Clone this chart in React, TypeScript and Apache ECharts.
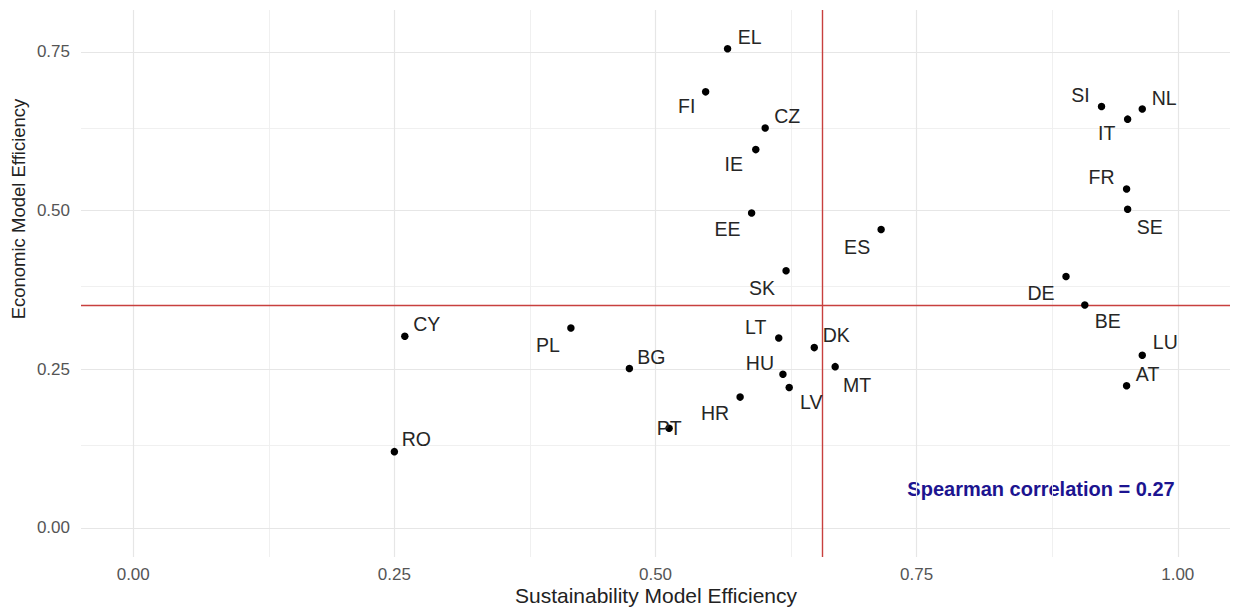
import React, { useEffect, useRef } from "react";
import * as echarts from "echarts";

// ---- data ----
const countries = ["EL","FI","CZ","IE","EE","SK","ES","SI","IT","NL","FR","SE","DE","BE","LU","AT","MT","DK","LT","HU","LV","HR","PT","BG","PL","CY","RO"];
const sustainability = [0.569,0.548,0.605,0.596,0.592,0.625,0.716,0.927,0.952,0.966,0.951,0.952,0.893,0.911,0.966,0.951,0.672,0.652,0.618,0.622,0.628,0.581,0.513,0.475,0.419,0.260,0.250];
const economic = [0.755,0.687,0.630,0.596,0.496,0.405,0.470,0.664,0.644,0.660,0.534,0.502,0.396,0.351,0.272,0.224,0.254,0.284,0.299,0.242,0.221,0.206,0.157,0.251,0.315,0.302,0.120];
const medianSustainability = 0.658;
const medianEconomic = 0.3535;
const spearman = 0.27;
const xTicks = [0, 0.25, 0.5, 0.75, 1];
const yTicks = [0, 0.25, 0.5, 0.75];
const xMinorGrid = [0.125, 0.375, 0.625, 0.875];
const yMinorGrid = [0.125, 0.375, 0.625];

// label placement (repel-style nudges, px)
const labelNudges: number[][] = [[22,-12],[-19,14],[22,-12],[-22,14],[-24,16],[-24,17],[-24,17],[-21,-11],[-21,14],[22,-11],[-25,-12],[22,18],[-25,16],[23,16],[23,-13],[21,-12],[22,18],[22,-13],[-23,-11],[-23,-11],[22,14],[-25,16],[0,0],[22,-12],[-23,17],[22,-12],[22,-13]];

const FONT = '"Liberation Sans", Arial, Helvetica, sans-serif';

export default function App() {
  const ref = useRef<HTMLDivElement>(null);
  useEffect(() => {
    if (!ref.current) return;
    const chart = echarts.init(ref.current, undefined, { renderer: "svg" });
    const fmt = (v: number) => v.toFixed(2);
    const majorStyle = { color: "#e6e6e6", width: 1.2, type: "solid" };
    const minorStyle = { color: "#eeeeee", width: 0.9, type: "solid" };
    const option: any = {
      animation: false,
      backgroundColor: "#ffffff",
      textStyle: { fontFamily: FONT },
      grid: { left: 81, right: 5, top: 10, bottom: 54, containLabel: false },
      xAxis: {
        type: "value", min: -0.05, max: 1.05,
        axisLine: { show: false }, axisTick: { show: false }, splitLine: { show: false },
        axisLabel: { customValues: xTicks, formatter: fmt, color: "#555", fontSize: 17, margin: 9, fontFamily: FONT },
      },
      yAxis: {
        type: "value", min: -0.046, max: 0.816,
        axisLine: { show: false }, axisTick: { show: false }, splitLine: { show: false },
        axisLabel: { customValues: yTicks, formatter: fmt, color: "#555", fontSize: 17, margin: 11, fontFamily: FONT },
      },
      series: [
        {
          type: "scatter", data: [], silent: true, z: 1,
          markLine: {
            silent: true, symbol: "none", animation: false, label: { show: false },
            emphasis: { disabled: true },
            data: [
              ...xMinorGrid.map((v) => ({ xAxis: v, lineStyle: minorStyle })),
              ...yMinorGrid.map((v) => ({ yAxis: v, lineStyle: minorStyle })),
              ...xTicks.map((v) => ({ xAxis: v, lineStyle: majorStyle })),
              ...yTicks.map((v) => ({ yAxis: v, lineStyle: majorStyle })),
            ],
          },
        },
        {
          type: "scatter", data: [], silent: true, z: 3,
          markLine: {
            silent: true, symbol: "none", animation: false, label: { show: false },
            emphasis: { disabled: true },
            lineStyle: { color: "#c8403e", width: 1.4, type: "solid" },
            data: [{ xAxis: medianSustainability }, { yAxis: medianEconomic }],
          },
        },
        {
          type: "scatter", z: 5, symbolSize: 7.5, silent: true,
          itemStyle: { color: "#000000", opacity: 1 },
          emphasis: { disabled: true },
          label: { show: true, position: "inside", formatter: "{b}", color: "#262626", fontSize: 19.5, fontFamily: FONT },
          data: countries.map((c, i) => ({
            name: c,
            value: [sustainability[i], economic[i]],
            label: { offset: labelNudges[i] },
          })),
        },
      ],
      graphic: [
        {
          type: "text", x: 656, y: 595, silent: true,
          style: { text: "Sustainability Model Efficiency", fill: "#222", fontSize: 21, fontFamily: FONT, align: "center", verticalAlign: "middle" },
        },
        {
          type: "text", x: 18, y: 209, rotation: Math.PI / 2, silent: true,
          style: { text: "Economic Model Efficiency", fill: "#222", fontSize: 18.5, fontFamily: FONT, align: "center", verticalAlign: "middle" },
        },
        {
          type: "text", x: 1041, y: 489, silent: true,
          style: { text: "Spearman correlation = " + spearman.toFixed(2), fill: "#1c1490", fontSize: 20, fontWeight: "bold", fontFamily: FONT, align: "center", verticalAlign: "middle" },
        },
      ],
    };
    chart.setOption(option);
    return () => chart.dispose();
  }, []);
  return <div ref={ref} style={{ position: "fixed", left: 0, top: 0, width: 1235, height: 611 }} />;
}
